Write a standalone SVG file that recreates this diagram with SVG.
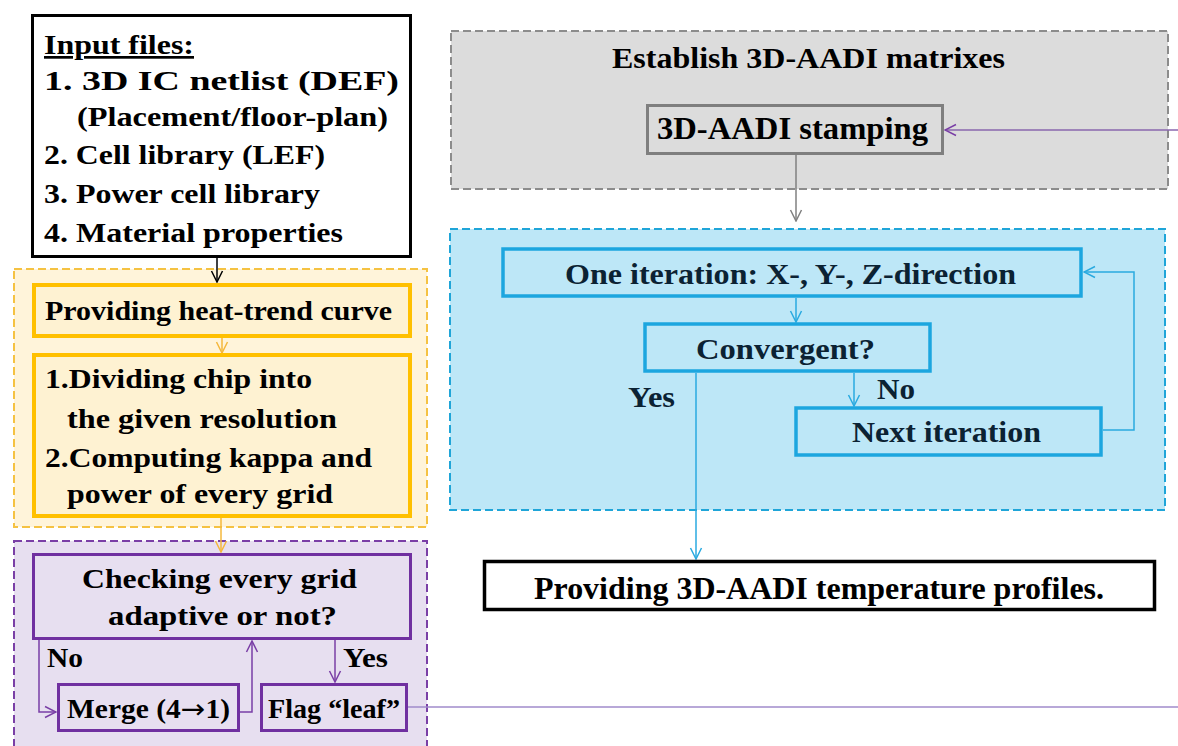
<svg xmlns="http://www.w3.org/2000/svg" width="1178" height="746" viewBox="0 0 1178 746">
<style>
text{font-family:"Liberation Serif","Times New Roman",serif;font-weight:bold;}
.t27{font-size:27px;fill:#000;}
.t29{font-size:29px;fill:#000;}
.tb{font-size:29px;fill:#0b2233;}
.t32{font-size:32px;fill:#000;}
.arr{font-family:"DejaVu Sans",sans-serif;font-weight:normal;}
.grpbox{stroke-width:2;stroke-dasharray:8 4;}
.c{fill:none;stroke-width:1.5;}
</style>
<defs>
<marker id="aBlack" markerUnits="userSpaceOnUse" markerWidth="14" markerHeight="14" viewBox="0 0 14 14" refX="13" refY="7" orient="auto"><path d="M2,1.5 L13,7 L2,12.5" fill="none" stroke="#000" stroke-width="1.5"/></marker>
<marker id="aGray" markerUnits="userSpaceOnUse" markerWidth="14" markerHeight="14" viewBox="0 0 14 14" refX="13" refY="7" orient="auto"><path d="M2,1.5 L13,7 L2,12.5" fill="none" stroke="#808080" stroke-width="1.5"/></marker>
<marker id="aYellow" markerUnits="userSpaceOnUse" markerWidth="14" markerHeight="14" viewBox="0 0 14 14" refX="13" refY="7" orient="auto"><path d="M2,1.5 L13,7 L2,12.5" fill="none" stroke="#F5B83D" stroke-width="1.5"/></marker>
<marker id="aPurple" markerUnits="userSpaceOnUse" markerWidth="14" markerHeight="14" viewBox="0 0 14 14" refX="13" refY="7" orient="auto"><path d="M2,1.5 L13,7 L2,12.5" fill="none" stroke="#7A3FA6" stroke-width="1.5"/></marker>
<marker id="aBlue" markerUnits="userSpaceOnUse" markerWidth="14" markerHeight="14" viewBox="0 0 14 14" refX="13" refY="7" orient="auto"><path d="M2,1.5 L13,7 L2,12.5" fill="none" stroke="#2AAAE0" stroke-width="1.5"/></marker>
</defs>
<rect x="0" y="0" width="1178" height="746" fill="#fff"/>

<!-- group containers -->
<g id="group-yellow"><rect class="grpbox" x="14" y="269" width="413" height="258" fill="#FFF4DA" stroke="#F5C242"/></g>
<g id="group-purple"><rect class="grpbox" x="14" y="541" width="413" height="230" fill="#E7DFF0" stroke="#7A3FA6"/></g>
<g id="group-gray"><rect class="grpbox" x="451" y="31" width="717" height="158" fill="#DCDCDC" stroke="#8C8C8C"/>
<text class="t29" x="612" y="68" textLength="393" lengthAdjust="spacingAndGlyphs">Establish 3D-AADI matrixes</text></g>
<g id="group-blue"><rect class="grpbox" x="450" y="229" width="715" height="281" fill="#BDE7F7" stroke="#1FA5D8"/></g>

<!-- connectors -->
<g id="connectors">
<path class="c" d="M217,257 V282" stroke="#000" marker-end="url(#aBlack)"/>
<path class="c" d="M222,338 V353" stroke="#F5B83D" marker-end="url(#aYellow)"/>
<path class="c" d="M221,518 V552" stroke="#F5B83D" marker-end="url(#aYellow)"/>
<path class="c" d="M39,640 V712 H56" stroke="#7A3FA6" marker-end="url(#aPurple)"/>
<path class="c" d="M240,712 H252 V641" stroke="#7A3FA6" marker-end="url(#aPurple)"/>
<path class="c" d="M335,640 V682" stroke="#7A3FA6" marker-end="url(#aPurple)"/>
<path class="c" d="M408,707 H1178" stroke="#A18BCB" stroke-width="2"/>
<path class="c" d="M1178,130 H945" stroke="#8A67AE" marker-end="url(#aPurple)"/>
<path class="c" d="M796,155 V221" stroke="#808080" marker-end="url(#aGray)"/>
<path class="c" d="M796,298 V322" stroke="#2AAAE0" marker-end="url(#aBlue)"/>
<path class="c" d="M854,373 V406" stroke="#2AAAE0" marker-end="url(#aBlue)"/>
<path class="c" d="M1103,430 H1134 V272 H1084" stroke="#2AAAE0" marker-end="url(#aBlue)"/>
<path class="c" d="M696,373 V559" stroke="#2AAAE0" marker-end="url(#aBlue)"/>
</g>

<!-- nodes -->
<g id="node-input">
<rect x="32.5" y="15.5" width="378" height="241" fill="#fff" stroke="#000" stroke-width="3"/>
<text class="t27" x="44" y="54" textLength="150" lengthAdjust="spacingAndGlyphs" text-decoration="underline">Input files:</text>
<text class="t27" x="44" y="90" textLength="355" lengthAdjust="spacingAndGlyphs">1. 3D IC netlist (DEF)</text>
<text class="t27" x="77" y="126" textLength="311" lengthAdjust="spacingAndGlyphs">(Placement/floor-plan)</text>
<text class="t27" x="44" y="164" textLength="281" lengthAdjust="spacingAndGlyphs">2. Cell library (LEF)</text>
<text class="t27" x="44" y="203" textLength="276" lengthAdjust="spacingAndGlyphs">3. Power cell library</text>
<text class="t27" x="44" y="242" textLength="299" lengthAdjust="spacingAndGlyphs">4. Material properties</text>
</g>

<g id="node-heat">
<rect x="34" y="285" width="376" height="51" fill="#FEF2D2" stroke="#FFC000" stroke-width="4"/>
<text class="t27" x="45" y="320" textLength="347" lengthAdjust="spacingAndGlyphs">Providing heat-trend curve</text>
</g>

<g id="node-divide">
<rect x="34" y="355" width="376" height="161" fill="#FEF2D2" stroke="#FFC000" stroke-width="4"/>
<text class="t27" x="45" y="388" textLength="267" lengthAdjust="spacingAndGlyphs">1.Dividing chip into</text>
<text class="t27" x="67" y="428" textLength="270" lengthAdjust="spacingAndGlyphs">the given resolution</text>
<text class="t27" x="45" y="467" textLength="327" lengthAdjust="spacingAndGlyphs">2.Computing kappa and</text>
<text class="t27" x="67" y="503" textLength="266" lengthAdjust="spacingAndGlyphs">power of every grid</text>
</g>

<g id="node-check">
<rect x="33.5" y="554.5" width="377" height="84" fill="#E7DFF0" stroke="#7030A0" stroke-width="3"/>
<text class="t27" x="82" y="588" textLength="275" lengthAdjust="spacingAndGlyphs">Checking every grid</text>
<text class="t27" x="108" y="625" textLength="229" lengthAdjust="spacingAndGlyphs">adaptive or not?</text>
</g>
<g id="label-no-left"><text class="t27" x="47" y="667" textLength="36" lengthAdjust="spacingAndGlyphs">No</text></g>
<g id="label-yes-left"><text class="t27" x="343" y="667" textLength="45" lengthAdjust="spacingAndGlyphs">Yes</text></g>

<g id="node-merge">
<rect x="58.5" y="684.5" width="180" height="46" fill="#E7DFF0" stroke="#7030A0" stroke-width="3"/>
<text class="t27" x="67" y="718" textLength="163" lengthAdjust="spacingAndGlyphs">Merge (4<tspan class="arr">→</tspan>1)</text>
</g>

<g id="node-flag">
<rect x="261.5" y="684.5" width="145" height="46" fill="#E7DFF0" stroke="#7030A0" stroke-width="3"/>
<text class="t27" x="268" y="718" textLength="132" lengthAdjust="spacingAndGlyphs">Flag “leaf”</text>
</g>

<g id="node-stamping">
<rect x="647.5" y="105.5" width="295" height="48" fill="#DCDCDC" stroke="#7F7F7F" stroke-width="3"/>
<text class="t32" x="657" y="139" textLength="271" lengthAdjust="spacingAndGlyphs">3D-AADI stamping</text>
</g>

<g id="node-iteration">
<rect x="503" y="249" width="578" height="47" fill="#BDE7F7" stroke="#1CA6DF" stroke-width="3.5"/>
<text class="tb" x="565" y="284" textLength="451" lengthAdjust="spacingAndGlyphs">One iteration: X-, Y-, Z-direction</text>
</g>

<g id="node-convergent">
<rect x="645" y="324" width="285" height="47" fill="#BDE7F7" stroke="#1CA6DF" stroke-width="3.5"/>
<text class="tb" x="696" y="359" textLength="179" lengthAdjust="spacingAndGlyphs">Convergent?</text>
</g>
<g id="label-yes-right"><text class="tb" x="628" y="407" textLength="47" lengthAdjust="spacingAndGlyphs">Yes</text></g>
<g id="label-no-right"><text class="tb" x="877" y="399" textLength="38" lengthAdjust="spacingAndGlyphs">No</text></g>

<g id="node-next">
<rect x="796" y="408" width="305" height="47" fill="#BDE7F7" stroke="#1CA6DF" stroke-width="3.5"/>
<text class="tb" x="852" y="442" textLength="189" lengthAdjust="spacingAndGlyphs">Next iteration</text>
</g>

<g id="node-temperature">
<rect x="484.5" y="561.5" width="670" height="48" fill="#fff" stroke="#000" stroke-width="3.5"/>
<text class="t32" x="534" y="599" textLength="570" lengthAdjust="spacingAndGlyphs">Providing 3D-AADI temperature profiles.</text>
</g>
</svg>
